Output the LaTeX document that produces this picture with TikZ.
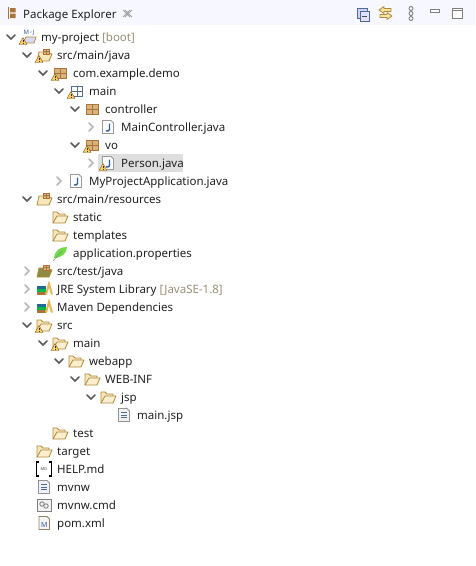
\documentclass[tikz,border=0pt]{standalone}
\usepackage{fontspec}
\setmainfont{Noto Sans}
\definecolor{fo}{HTML}{F8E6BC}
\definecolor{fl}{HTML}{B08A38}
\definecolor{pk}{HTML}{A9743A}
\definecolor{pkl}{HTML}{D9B27C}
\definecolor{wy}{HTML}{F7CF63}
\definecolor{chev}{HTML}{5A5A5A}
\definecolor{chevl}{HTML}{B8B8B8}
\definecolor{blu}{HTML}{2F5E9C}
\definecolor{txt}{HTML}{222222}
\definecolor{dim}{HTML}{9A8F78}
\tikzset{
 lbl/.style={anchor=base west,inner sep=0pt,text=txt,font=\fontsize{11.5}{12}\selectfont},
 opened/.style={draw=chev,line width=1.5pt,line cap=round},
 closed/.style={draw=chevl,line width=1.5pt,line cap=round},
 tool/.style={draw=#1,line width=.9pt},
}
\newcommand{\chD}[2]{\draw[opened] (#1-4,#2-2)--(#1,#2+2)--(#1+4,#2-2);}
\newcommand{\chR}[2]{\draw[closed] (#1-2,#2-4)--(#1+2,#2)--(#1-2,#2+4);}
\newcommand{\fold}[2]{\begin{scope}[shift={(#1,#2)}]
 \draw[fl,fill=fo,line width=.8pt,line join=round] (-7,6)--(-7,-5)--(-3,-5)--(-1,-3)--(5,-3)--(5,-1);
 \draw[fl,fill=fo!70!white,line width=.8pt,line join=round] (-7,6)--(-3,-1)--(8,-1)--(5,6)--cycle;
 \end{scope}}
\newcommand{\warn}[2]{\begin{scope}[shift={(#1,#2)}]
 \draw[fill=wy,draw=brown!70!black,line width=.4pt,line join=round] (-4,3.5)--(0,-3.5)--(4,3.5)--cycle;
 \draw[black!80,line width=.7pt] (0,-1.5)--(0,1) (0,1.8)--(0,2.6);
 \end{scope}}
\newcommand{\pkgi}[3]{\begin{scope}[shift={(#1,#2)}]
 \fill[pkl] (-6,-5) rectangle (6,5);
 \draw[#3,line width=.9pt] (-6,-5) rectangle (6,5) (0,-5)--(0,5) (-6,0)--(6,0);
 \end{scope}}
\newcommand{\emptypk}[2]{\begin{scope}[shift={(#1,#2)}]
 \draw[blu!50!gray,line width=.8pt] (-5.5,-5) rectangle (5.5,5) (0,-5)--(0,5) (-5.5,0)--(5.5,0);
 \end{scope}}
\newcommand{\javaf}[2]{\begin{scope}[shift={(#1,#2)}]
 \draw[fill=white,draw=gray!80,line width=.8pt] (-5.5,-6.5)--(3,-6.5)--(5.5,-4)--(5.5,6.5)--(-5.5,6.5)--cycle;
 \draw[blu,line width=1.4pt] (1.5,-3.5)--(1.5,2.5) to[out=-90,in=0] (-2,4);
 \end{scope}}
\newcommand{\srcf}[3]{\begin{scope}[shift={(#1,#2)}]
 \draw[fl,fill=#3,line width=.8pt,line join=round] (-7,6)--(-5,-3)--(-1,-3)--(8,-1)--(5,6)--cycle;
 \draw[pk,fill=pkl,line width=.6pt] (-1,-6) rectangle (5,-1) (2,-6)--(2,-1) (-1,-3.5)--(5,-3.5);
 \end{scope}}
\newcommand{\lib}[2]{\begin{scope}[shift={(#1,#2)}]
 \fill[blu!70!teal] (-7,-3) rectangle (2,0);
 \fill[green!45!teal] (-7,0) rectangle (2,2.5);
 \fill[pk] (-7,2.5) rectangle (2,5.5);
 \draw[wy!70!brown,line width=2pt] (2,5.5)--(5,-5)--(8,5.5);
 \end{scope}}
\newcommand{\txtf}[3]{\begin{scope}[shift={(#1,#2)}]
 \draw[fill=#3,draw=gray!85,line width=.8pt] (-5.5,-6.5)--(3,-6.5)--(5.5,-4)--(5.5,6.5)--(-5.5,6.5)--cycle;
 \draw[blu!60!gray,line width=.7pt] (-3,-2.5)--(3,-2.5) (-3,0)--(3,0) (-3,2.5)--(3,2.5);
 \end{scope}}
\begin{document}
\begin{tikzpicture}[x=1pt,y=-1pt]
\useasboundingbox (0,0) rectangle (475,566);
\fill[white] (0,0) rectangle (475,566);
% header
\fill[blue!3!white] (0,0) rectangle (475,25);
\fill[white!97!blue] (0,0)--(132,0) .. controls (138,0) and (136,25) .. (146,25)--(0,25)--cycle;
\node[lbl] (title) at (23,18) {Package Explorer};
\begin{scope}[shift={(11,13)}]
 \fill[pk] (-3.5,-6) rectangle (-2.3,6);
 \fill[pk] (-1,-5) rectangle (4.5,-.7) (-1,.7) rectangle (4.5,5);
\end{scope}
\draw[gray!70,line width=.8pt] (123,10)--(130,17) (130,10)--(123,17) (125,10)--(132,17) (132,10)--(125,17);
% toolbar
\draw[tool=blu!60!gray,fill=blue!18!white] (357,8) rectangle (367,18);
\draw[tool=blu!60!gray,fill=blue!12!white] (360,11) rectangle (369,21);
\draw[black!70,line width=1pt] (362,16)--(367,16);
\draw[fl,fill=wy!60!white,line width=.8pt,line join=round] (379,10)--(384,6.5)--(384,8.5)--(391,8.5)--(391,11.5)--(384,11.5)--(384,13.5)--cycle;
\draw[fl,fill=wy!60!white,line width=.8pt,line join=round] (392,16)--(387,12.5)--(387,14.5)--(380,14.5)--(380,17.5)--(387,17.5)--(387,19.5)--cycle;
\draw[gray,line width=.9pt] (411,8.5) circle (2) (411,13.5) circle (2) (411,18.5) circle (2);
\draw[tool=gray,fill=white] (430,9) rectangle (439,12);
\draw[tool=gray,fill=white] (452,8.5) rectangle (462,18.5);
\draw[gray,line width=1.6pt] (452,10.5)--(462,10.5);
% selection
\fill[black!13] (98,154) rectangle (183,172);
% rows
\node[lbl] (n1) at (41,41) {my-project \textcolor{dim}{[boot]}};
\chD{11}{37}
\begin{scope}[shift={(28,37)}]
 \draw[fl,fill=blue!15!white,line width=.7pt] (-5,6)--(-2,0)--(8,0)--(6,6)--cycle;
 \node[inner sep=0pt,text=blu,font=\fontsize{6}{6}\bfseries\selectfont] (mj) at (1,-4) {M\,\raisebox{1pt}{\fontsize{3}{3}\selectfont 2}\,J};
\end{scope}
\warn{23}{41}
\node[lbl] (n2) at (57,59) {src/main/java}; \chD{27}{55}
\srcf{44}{55}{fo} \warn{39}{59}
\node[lbl] (n3) at (73,77) {com.example.demo}; \chD{43}{73}
\pkgi{60}{73}{pk} \warn{55}{77}
\node[lbl] (n4) at (89,95) {main}; \chD{59}{91}
\emptypk{77}{91} \warn{71}{95}
\node[lbl] (n5) at (105,113) {controller}; \chD{75}{109}
\pkgi{92}{109}{pk}
\node[lbl] (n6) at (121,131) {MainController.java}; \chR{91}{127}
\javaf{108}{127}
\node[lbl] (n7) at (105,149) {vo}; \chD{75}{145}
\pkgi{92}{145}{pk} \warn{87}{149}
\node[lbl] (n8) at (121,167) {Person.java}; \chR{91}{163}
\javaf{108}{163} \warn{103}{167}
\node[lbl] (n9) at (89,185) {MyProjectApplication.java}; \chR{59}{181}
\javaf{76}{181}
\node[lbl] (n10) at (57,203) {src/main/resources}; \chD{27}{199}
\srcf{44}{199}{fo}
\node[lbl] (n11) at (73,221) {static}; \fold{60}{217}
\node[lbl] (n12) at (73,239) {templates}; \fold{60}{235}
\node[lbl] (n13) at (73,257) {application.properties};
\fill[green!55!olive!70] (54,258) .. controls (55,250) and (60,247) .. (67,247) .. controls (67,253) and (62,258) .. (54,258) -- cycle;
\draw[green!40!black!60,line width=.6pt] (53,261)--(62,251);
\node[lbl] (n14) at (57,275) {src/test/java}; \chR{27}{271}
\srcf{44}{271}{olive!55!gray}
\node[lbl] (n15) at (57,293) {JRE System Library \textcolor{dim}{[JavaSE-1.8]}}; \chR{27}{289}
\lib{44}{289}
\node[lbl] (n16) at (57,311) {Maven Dependencies}; \chR{27}{307}
\lib{44}{307}
\node[lbl] (n17) at (57,329) {src}; \chD{27}{325}
\fold{44}{325} \warn{39}{329}
\node[lbl] (n18) at (73,347) {main}; \chD{43}{343}
\fold{60}{343} \warn{55}{347}
\node[lbl] (n19) at (89,365) {webapp}; \chD{59}{361}
\fold{76}{361}
\node[lbl] (n20) at (105,383) {WEB-INF}; \chD{75}{379}
\fold{92}{379}
\node[lbl] (n21) at (121,401) {jsp}; \chD{91}{397}
\fold{108}{397}
\node[lbl] (n22) at (137,419) {main.jsp};
\txtf{124}{415}{black!6}
\node[lbl] (n23) at (73,437) {test}; \fold{60}{433}
\node[lbl] (n24) at (57,455) {target}; \fold{44}{451}
\node[lbl] (n25) at (57,473) {HELP.md};
\draw[black,line width=1.5pt] (39,462)--(36.5,462)--(36.5,476)--(39,476) (49,462)--(51.5,462)--(51.5,476)--(49,476);
\node[inner sep=0pt,text=black!75,font=\fontsize{4}{4}\bfseries\selectfont] (hm) at (44,469) {MD};
\node[lbl] (n26) at (57,491) {mvnw};
\txtf{44}{487}{blue!6!white}
\node[lbl] (n27) at (57,509) {mvnw.cmd};
\draw[fill=black!5,draw=gray,line width=.8pt] (37,499) rectangle (51,511);
\draw[gray,line width=.8pt] (42,504) circle (2.2) (46,506) circle (2.2);
\node[lbl] (n28) at (57,527) {pom.xml};
\draw[fill=black!4,draw=gray!70!brown,line width=.8pt] (39,516.5)--(47,516.5)--(49.5,519)--(49.5,529.5)--(39,529.5)--cycle;
\node[inner sep=0pt,text=blu,font=\fontsize{7}{7}\bfseries\selectfont] (pm) at (44.2,524.5) {M};
\end{tikzpicture}
\end{document}
